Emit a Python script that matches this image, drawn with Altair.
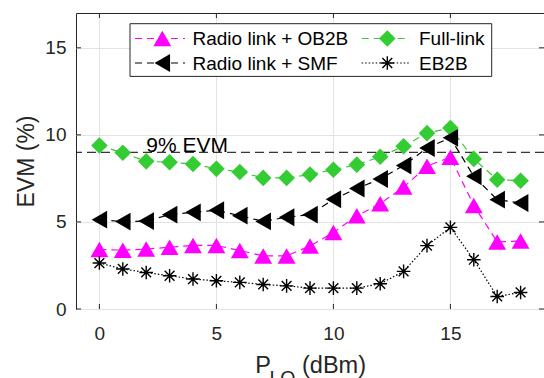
import altair as alt
import pandas as pd

# ---------------- data ----------------
x_vals = list(range(19))
ob2b = [3.42, 3.38, 3.44, 3.55, 3.65, 3.65, 3.36, 3.05, 3.05, 3.62, 4.4, 5.35, 6.05, 7.0, 8.2, 8.72, 5.95, 3.85, 3.9]
smf = [5.13, 5.02, 5.05, 5.42, 5.55, 5.67, 5.36, 5.03, 5.27, 5.42, 6.3, 6.92, 7.47, 8.24, 9.25, 9.83, 7.62, 6.28, 6.09]
full_link = [9.39, 8.97, 8.48, 8.43, 8.33, 8.05, 7.87, 7.53, 7.53, 7.72, 8.0, 8.29, 8.74, 9.35, 10.1, 10.4, 8.62, 7.43, 7.37]
eb2b = [2.64, 2.3, 2.1, 1.91, 1.72, 1.62, 1.53, 1.41, 1.33, 1.2, 1.2, 1.2, 1.45, 2.16, 3.64, 4.69, 2.83, 0.72, 0.95]
series_names = ["Radio link + OB2B", "Radio link + SMF", "Full-link", "EB2B"]
x_ticks = [0, 5, 10, 15]
y_ticks = [0, 5, 10, 15]
evm_limit = [9]
evm_label = ["9% EVM"]
evm_label_x = [2.0]

# ---------------- layout / style ----------------
W, H = 468, 296
FONT = "Liberation Sans"
INK = "#262626"
GRID = "#e3e3e3"
ASTERISK = "M-1,0L1,0M0,-1L0,1M-0.72,-0.72L0.72,0.72M-0.72,0.72L0.72,-0.72"

styles = {
    "Radio link + OB2B": dict(color="#FF00FF", dash=[7, 5], shape="triangle-up", size=320, filled=True),
    "Radio link + SMF": dict(color="#000000", dash=[7, 5], shape="triangle-left", size=320, filled=True),
    "Full-link": dict(color="#33CC33", dash=[7, 5], shape="diamond", size=275, filled=True),
    "EB2B": dict(color="#000000", dash=[1.5, 2], shape=ASTERISK, size=185, filled=False),
}
draw_order = ["Full-link", "Radio link + OB2B", "Radio link + SMF", "EB2B"]

rows = []
for name, vals in zip(series_names, [ob2b, smf, full_link, eb2b]):
    for xv, yv in zip(x_vals, vals):
        rows.append({"series": name, "p": xv, "evm": yv})
df = pd.DataFrame(rows)

xscale = alt.Scale(domain=[-1, 19], nice=False, zero=False)
yscale = alt.Scale(domain=[0, 17], nice=False, zero=False)

x_axis = alt.Axis(values=x_ticks, grid=True, ticks=False, domain=False,
                  labelPadding=15, title=None,
                  labelFont=FONT, labelFontSize=19, labelColor=INK,
                  gridColor=GRID, gridWidth=1)
y_axis = alt.Axis(values=y_ticks, grid=True, ticks=False, domain=False,
                  labelPadding=10, title="EVM (%)", titleX=-42.5, titleY=148,
                  titleBaseline="alphabetic", titleAngle=270, titleAlign="center",
                  labelFont=FONT, labelFontSize=19, labelColor=INK,
                  titleFont=FONT, titleFontSize=23, titleFontWeight="normal", titleColor=INK,
                  gridColor=GRID, gridWidth=1)

X = alt.X("p:Q", scale=xscale, axis=x_axis)
Y = alt.Y("evm:Q", scale=yscale, axis=y_axis)

one = pd.DataFrame({"k": [0]})

layers = []

# 9 % EVM limit
lim_df = pd.DataFrame({"evm": evm_limit, "p": evm_label_x, "lab": evm_label})
layers.append(alt.Chart(lim_df).mark_rule(color="#000000", strokeWidth=1, strokeDash=[9, 5]).encode(y=Y))
layers.append(alt.Chart(lim_df).mark_text(align="left", baseline="alphabetic", fontSize=21,
                                          font=FONT, color="#000000", dy=-0.5)
              .encode(x=X, y=Y, text="lab:N"))

# series
for name in draw_order:
    st = styles[name]
    sub = alt.Chart(df).transform_filter(alt.datum.series == name)
    layers.append(sub.mark_line(color=st["color"], strokeWidth=1.2, strokeDash=st["dash"]).encode(x=X, y=Y))
    if st["filled"]:
        pm = sub.mark_point(shape=st["shape"], size=st["size"], filled=True, color=st["color"], opacity=1)
    else:
        pm = sub.mark_point(shape=st["shape"], size=st["size"], filled=False, color=st["color"],
                            strokeWidth=1.4, opacity=1)
    layers.append(pm.encode(x=X, y=Y))

# inward ticks (box style)
xt = pd.DataFrame({"p": x_ticks})
yt = pd.DataFrame({"evm": y_ticks})
layers.append(alt.Chart(xt).mark_rule(color=INK, strokeWidth=1).encode(x=X, y=alt.value(H), y2=alt.value(H - 5)))
layers.append(alt.Chart(xt).mark_rule(color=INK, strokeWidth=1).encode(x=X, y=alt.value(0), y2=alt.value(5)))
layers.append(alt.Chart(yt).mark_rule(color=INK, strokeWidth=1).encode(y=Y, x=alt.value(0), x2=alt.value(5)))
layers.append(alt.Chart(yt).mark_rule(color=INK, strokeWidth=1).encode(y=Y, x=alt.value(W), x2=alt.value(W - 5)))

# legend (manual, MATLAB style)
layers.append(alt.Chart(one).mark_rect(fill="white", stroke=INK, strokeWidth=1)
              .encode(x=alt.value(54), x2=alt.value(415.7), y=alt.value(10.7), y2=alt.value(63.4)))
legend_slots = {
    "Radio link + OB2B": (59, 86.3, 109, 116.5, 25.5),
    "Radio link + SMF": (59, 86.3, 109, 116.5, 50.0),
    "Full-link": (285.7, 311.3, 334, 343, 25.5),
    "EB2B": (285.7, 311.3, 334, 343, 50.0),
}
for name in series_names:
    st = styles[name]
    x1, xm, x2, xt_, yy = legend_slots[name]
    layers.append(alt.Chart(one).mark_rule(color=st["color"], strokeWidth=1.2, strokeDash=st["dash"])
                  .encode(x=alt.value(x1), x2=alt.value(x2), y=alt.value(yy)))
    if st["filled"]:
        lp = alt.Chart(one).mark_point(shape=st["shape"], size=st["size"], filled=True, color=st["color"], opacity=1)
    else:
        lp = alt.Chart(one).mark_point(shape=st["shape"], size=st["size"], filled=False, color=st["color"],
                                       strokeWidth=1.4, opacity=1)
    layers.append(lp.encode(x=alt.value(xm), y=alt.value(yy)))
    layers.append(alt.Chart(one).mark_text(align="left", baseline="middle", fontSize=19, font=FONT, color="#000000")
                  .encode(x=alt.value(xt_), y=alt.value(yy + 0.8), text=alt.value(name)))

# x-axis title with subscript
layers.append(alt.Chart(one).mark_text(align="left", baseline="alphabetic", fontSize=23.5, font=FONT, color=INK)
              .encode(x=alt.value(179.2), y=alt.value(359.6), text=alt.value("P")))
layers.append(alt.Chart(one).mark_text(align="left", baseline="alphabetic", fontSize=19.5, font=FONT, color=INK)
              .encode(x=alt.value(193.5), y=alt.value(371.5), text=alt.value("LO")))
layers.append(alt.Chart(one).mark_text(align="left", baseline="alphabetic", fontSize=23.5, font=FONT, color=INK)
              .encode(x=alt.value(226), y=alt.value(359.6), text=alt.value("(dBm)")))

chart = (
    alt.layer(*layers)
    .properties(width=W, height=H, autosize=alt.AutoSizeParams(type="none"),
                padding={"left": 76, "top": 13, "right": 0, "bottom": 69},
                background="white")
    .configure_view(stroke=INK, strokeWidth=1)
)

chart.save("out.html", embed_options={"renderer": "svg", "actions": False})
